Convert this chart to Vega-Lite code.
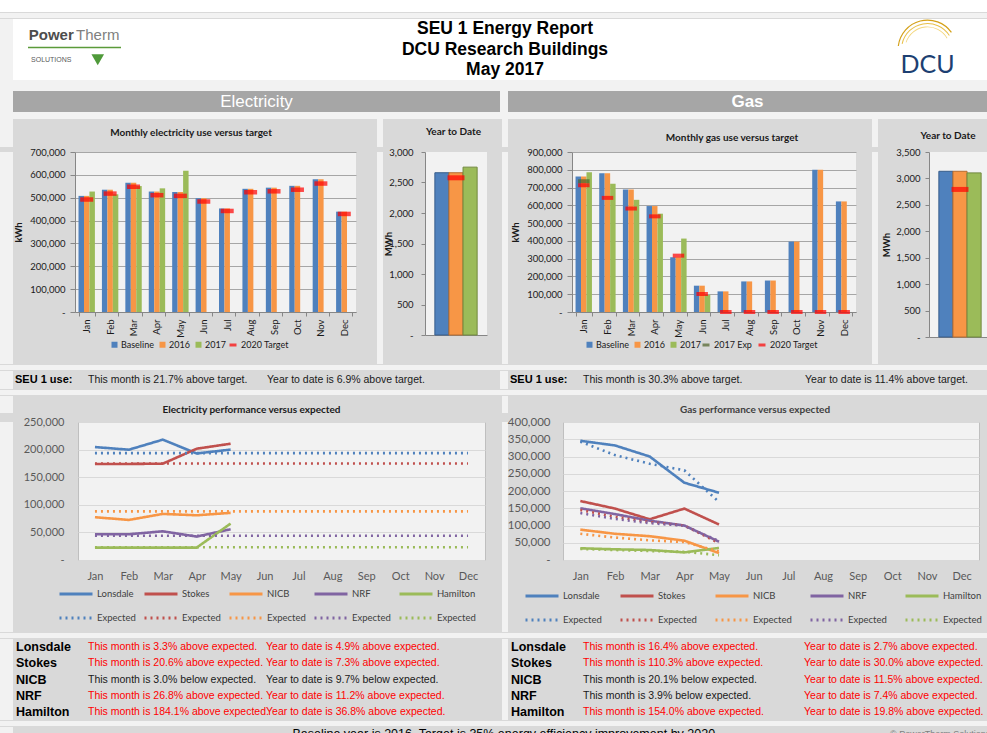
{
"$schema": "https://vega.github.io/schema/vega-lite/v6.json",
"padding": 0,
"background": "#d9d9d9",
"spacing": 0,
"resolve": {"scale": {"color": "independent", "stroke": "independent", "strokeDash": "independent"}, "legend": {"color": "independent", "stroke": "independent", "strokeDash": "independent"}},
"config": {
  "view": {"stroke": null},
  "font": "Lato",
  "axis": {"labelFont": "Lato", "titleFont": "Lato"},
  "legend": {"labelFont": "Lato", "padding": 0},
  "title": {"font": "Lato", "fontWeight": "bold", "fontSize": 10, "color": "#1a1a1a"}
},
"datasets": {
  "elecMonthly": [
    {"month":"Jan","series":"Baseline","kwh":508000},{"month":"Feb","series":"Baseline","kwh":535000},{"month":"Mar","series":"Baseline","kwh":565000},{"month":"Apr","series":"Baseline","kwh":527000},{"month":"May","series":"Baseline","kwh":525000},{"month":"Jun","series":"Baseline","kwh":498000},{"month":"Jul","series":"Baseline","kwh":453000},{"month":"Aug","series":"Baseline","kwh":539000},{"month":"Sep","series":"Baseline","kwh":544000},{"month":"Oct","series":"Baseline","kwh":552000},{"month":"Nov","series":"Baseline","kwh":581000},{"month":"Dec","series":"Baseline","kwh":439000},
    {"month":"Jan","series":"2016","kwh":508000},{"month":"Feb","series":"2016","kwh":535000},{"month":"Mar","series":"2016","kwh":565000},{"month":"Apr","series":"2016","kwh":527000},{"month":"May","series":"2016","kwh":525000},{"month":"Jun","series":"2016","kwh":498000},{"month":"Jul","series":"2016","kwh":453000},{"month":"Aug","series":"2016","kwh":539000},{"month":"Sep","series":"2016","kwh":544000},{"month":"Oct","series":"2016","kwh":552000},{"month":"Nov","series":"2016","kwh":581000},{"month":"Dec","series":"2016","kwh":439000},
    {"month":"Jan","series":"2017","kwh":527000},{"month":"Feb","series":"2017","kwh":515000},{"month":"Mar","series":"2017","kwh":551000},{"month":"Apr","series":"2017","kwh":541000},{"month":"May","series":"2017","kwh":618000},
    {"month":"Jan","series":"2020 Target","kwh":492000},{"month":"Feb","series":"2020 Target","kwh":518000},{"month":"Mar","series":"2020 Target","kwh":548000},{"month":"Apr","series":"2020 Target","kwh":511000},{"month":"May","series":"2020 Target","kwh":508000},{"month":"Jun","series":"2020 Target","kwh":483000},{"month":"Jul","series":"2020 Target","kwh":442000},{"month":"Aug","series":"2020 Target","kwh":524000},{"month":"Sep","series":"2020 Target","kwh":528000},{"month":"Oct","series":"2020 Target","kwh":535000},{"month":"Nov","series":"2020 Target","kwh":562000},{"month":"Dec","series":"2020 Target","kwh":429000}
  ],
  "gasMonthly": [
    {"month":"Jan","series":"Baseline","kwh":762000},{"month":"Feb","series":"Baseline","kwh":780000},{"month":"Mar","series":"Baseline","kwh":689000},{"month":"Apr","series":"Baseline","kwh":596000},{"month":"May","series":"Baseline","kwh":308000},{"month":"Jun","series":"Baseline","kwh":148000},{"month":"Jul","series":"Baseline","kwh":116000},{"month":"Aug","series":"Baseline","kwh":172000},{"month":"Sep","series":"Baseline","kwh":177000},{"month":"Oct","series":"Baseline","kwh":396000},{"month":"Nov","series":"Baseline","kwh":800000},{"month":"Dec","series":"Baseline","kwh":622000},
    {"month":"Jan","series":"2016","kwh":762000},{"month":"Feb","series":"2016","kwh":780000},{"month":"Mar","series":"2016","kwh":689000},{"month":"Apr","series":"2016","kwh":596000},{"month":"May","series":"2016","kwh":308000},{"month":"Jun","series":"2016","kwh":148000},{"month":"Jul","series":"2016","kwh":116000},{"month":"Aug","series":"2016","kwh":172000},{"month":"Sep","series":"2016","kwh":177000},{"month":"Oct","series":"2016","kwh":396000},{"month":"Nov","series":"2016","kwh":800000},{"month":"Dec","series":"2016","kwh":622000},
    {"month":"Jan","series":"2017","kwh":786000},{"month":"Feb","series":"2017","kwh":722000},{"month":"Mar","series":"2017","kwh":631000},{"month":"Apr","series":"2017","kwh":553000},{"month":"May","series":"2017","kwh":413000},{"month":"Jun","series":"2017","kwh":96000},
    {"month":"Jan","series":"2017 Exp","kwh":736000},
    {"month":"Jan","series":"2020 Target","kwh":713000},{"month":"Feb","series":"2020 Target","kwh":642000},{"month":"Mar","series":"2020 Target","kwh":582000},{"month":"Apr","series":"2020 Target","kwh":538000},{"month":"May","series":"2020 Target","kwh":317000},{"month":"Jun","series":"2020 Target","kwh":101000},{"month":"Jul","series":"2020 Target","kwh":0},{"month":"Aug","series":"2020 Target","kwh":0},{"month":"Sep","series":"2020 Target","kwh":0},{"month":"Oct","series":"2020 Target","kwh":0},{"month":"Nov","series":"2020 Target","kwh":0},{"month":"Dec","series":"2020 Target","kwh":0}
  ],
  "elecYtd": [{"bar":"Baseline","mwh":2660},{"bar":"2016","mwh":2660},{"bar":"2017","mwh":2752}],
  "elecYtdTarget": [{"bar":"2016","mwh":2577}],
  "gasYtd": [{"bar":"Baseline","mwh":3135},{"bar":"2016","mwh":3135},{"bar":"2017","mwh":3105}],
  "gasYtdTarget": [{"bar":"2016","mwh":2792}],
  "elecPerf": [
    {"month":"Jan","series":"Lonsdale","kwh":204600},{"month":"Feb","series":"Lonsdale","kwh":199800},{"month":"Mar","series":"Lonsdale","kwh":218000},{"month":"Apr","series":"Lonsdale","kwh":193000},{"month":"May","series":"Lonsdale","kwh":200000},
    {"month":"Jan","series":"Stokes","kwh":174000},{"month":"Feb","series":"Stokes","kwh":174000},{"month":"Mar","series":"Stokes","kwh":174500},{"month":"Apr","series":"Stokes","kwh":201600},{"month":"May","series":"Stokes","kwh":210700},
    {"month":"Jan","series":"NICB","kwh":77500},{"month":"Feb","series":"NICB","kwh":72600},{"month":"Mar","series":"NICB","kwh":83500},{"month":"Apr","series":"NICB","kwh":81000},{"month":"May","series":"NICB","kwh":85400},
    {"month":"Jan","series":"NRF","kwh":46600},{"month":"Feb","series":"NRF","kwh":46600},{"month":"Mar","series":"NRF","kwh":52000},{"month":"Apr","series":"NRF","kwh":42400},{"month":"May","series":"NRF","kwh":55700},
    {"month":"Jan","series":"Hamilton","kwh":22500},{"month":"Feb","series":"Hamilton","kwh":22500},{"month":"Mar","series":"Hamilton","kwh":22500},{"month":"Apr","series":"Hamilton","kwh":22500},{"month":"May","series":"Hamilton","kwh":66000},
    {"month":"Jan","series":"Lonsdale Exp","kwh":193600},{"month":"Feb","series":"Lonsdale Exp","kwh":193600},{"month":"Mar","series":"Lonsdale Exp","kwh":193600},{"month":"Apr","series":"Lonsdale Exp","kwh":193600},{"month":"May","series":"Lonsdale Exp","kwh":193600},{"month":"Jun","series":"Lonsdale Exp","kwh":193600},{"month":"Jul","series":"Lonsdale Exp","kwh":193600},{"month":"Aug","series":"Lonsdale Exp","kwh":193600},{"month":"Sep","series":"Lonsdale Exp","kwh":193600},{"month":"Oct","series":"Lonsdale Exp","kwh":193600},{"month":"Nov","series":"Lonsdale Exp","kwh":193600},{"month":"Dec","series":"Lonsdale Exp","kwh":193600},
    {"month":"Jan","series":"Stokes Exp","kwh":174700},{"month":"Feb","series":"Stokes Exp","kwh":174700},{"month":"Mar","series":"Stokes Exp","kwh":174700},{"month":"Apr","series":"Stokes Exp","kwh":174700},{"month":"May","series":"Stokes Exp","kwh":174700},{"month":"Jun","series":"Stokes Exp","kwh":174700},{"month":"Jul","series":"Stokes Exp","kwh":174700},{"month":"Aug","series":"Stokes Exp","kwh":174700},{"month":"Sep","series":"Stokes Exp","kwh":174700},{"month":"Oct","series":"Stokes Exp","kwh":174700},{"month":"Nov","series":"Stokes Exp","kwh":174700},{"month":"Dec","series":"Stokes Exp","kwh":174700},
    {"month":"Jan","series":"NICB Exp","kwh":88000},{"month":"Feb","series":"NICB Exp","kwh":88000},{"month":"Mar","series":"NICB Exp","kwh":88000},{"month":"Apr","series":"NICB Exp","kwh":88000},{"month":"May","series":"NICB Exp","kwh":88000},{"month":"Jun","series":"NICB Exp","kwh":88000},{"month":"Jul","series":"NICB Exp","kwh":88000},{"month":"Aug","series":"NICB Exp","kwh":88000},{"month":"Sep","series":"NICB Exp","kwh":88000},{"month":"Oct","series":"NICB Exp","kwh":88000},{"month":"Nov","series":"NICB Exp","kwh":88000},{"month":"Dec","series":"NICB Exp","kwh":88000},
    {"month":"Jan","series":"NRF Exp","kwh":43900},{"month":"Feb","series":"NRF Exp","kwh":43900},{"month":"Mar","series":"NRF Exp","kwh":43900},{"month":"Apr","series":"NRF Exp","kwh":43900},{"month":"May","series":"NRF Exp","kwh":43900},{"month":"Jun","series":"NRF Exp","kwh":43900},{"month":"Jul","series":"NRF Exp","kwh":43900},{"month":"Aug","series":"NRF Exp","kwh":43900},{"month":"Sep","series":"NRF Exp","kwh":43900},{"month":"Oct","series":"NRF Exp","kwh":43900},{"month":"Nov","series":"NRF Exp","kwh":43900},{"month":"Dec","series":"NRF Exp","kwh":43900},
    {"month":"Jan","series":"Hamilton Exp","kwh":23200},{"month":"Feb","series":"Hamilton Exp","kwh":23200},{"month":"Mar","series":"Hamilton Exp","kwh":23200},{"month":"Apr","series":"Hamilton Exp","kwh":23200},{"month":"May","series":"Hamilton Exp","kwh":23200},{"month":"Jun","series":"Hamilton Exp","kwh":23200},{"month":"Jul","series":"Hamilton Exp","kwh":23200},{"month":"Aug","series":"Hamilton Exp","kwh":23200},{"month":"Sep","series":"Hamilton Exp","kwh":23200},{"month":"Oct","series":"Hamilton Exp","kwh":23200},{"month":"Nov","series":"Hamilton Exp","kwh":23200},{"month":"Dec","series":"Hamilton Exp","kwh":23200}
  ],
  "gasPerf": [
    {"month":"Jan","series":"Lonsdale","kwh":345600},{"month":"Feb","series":"Lonsdale","kwh":332000},{"month":"Mar","series":"Lonsdale","kwh":300000},{"month":"Apr","series":"Lonsdale","kwh":224000},{"month":"May","series":"Lonsdale","kwh":195000},
    {"month":"Jan","series":"Stokes","kwh":171000},{"month":"Feb","series":"Stokes","kwh":149000},{"month":"Mar","series":"Stokes","kwh":118000},{"month":"Apr","series":"Stokes","kwh":149000},{"month":"May","series":"Stokes","kwh":103000},
    {"month":"Jan","series":"NICB","kwh":88000},{"month":"Feb","series":"NICB","kwh":76000},{"month":"Mar","series":"NICB","kwh":69000},{"month":"Apr","series":"NICB","kwh":56000},{"month":"May","series":"NICB","kwh":20000},
    {"month":"Jan","series":"NRF","kwh":150000},{"month":"Feb","series":"NRF","kwh":133000},{"month":"Mar","series":"NRF","kwh":114000},{"month":"Apr","series":"NRF","kwh":100000},{"month":"May","series":"NRF","kwh":53000},
    {"month":"Jan","series":"Hamilton","kwh":34000},{"month":"Feb","series":"Hamilton","kwh":31000},{"month":"Mar","series":"Hamilton","kwh":29000},{"month":"Apr","series":"Hamilton","kwh":22000},{"month":"May","series":"Hamilton","kwh":35000},
    {"month":"Jan","series":"Lonsdale Exp","kwh":343000},{"month":"Feb","series":"Lonsdale Exp","kwh":304000},{"month":"Mar","series":"Lonsdale Exp","kwh":279000},{"month":"Apr","series":"Lonsdale Exp","kwh":260000},{"month":"May","series":"Lonsdale Exp","kwh":168000},
    {"month":"Jan","series":"Stokes Exp","kwh":145000},{"month":"Feb","series":"Stokes Exp","kwh":125000},{"month":"Mar","series":"Stokes Exp","kwh":110000},{"month":"Apr","series":"Stokes Exp","kwh":100000},{"month":"May","series":"Stokes Exp","kwh":49000},
    {"month":"Jan","series":"NICB Exp","kwh":76000},{"month":"Feb","series":"NICB Exp","kwh":65000},{"month":"Mar","series":"NICB Exp","kwh":57000},{"month":"Apr","series":"NICB Exp","kwh":52000},{"month":"May","series":"NICB Exp","kwh":25000},
    {"month":"Jan","series":"NRF Exp","kwh":136000},{"month":"Feb","series":"NRF Exp","kwh":119000},{"month":"Mar","series":"NRF Exp","kwh":107000},{"month":"Apr","series":"NRF Exp","kwh":99000},{"month":"May","series":"NRF Exp","kwh":55000},
    {"month":"Jan","series":"Hamilton Exp","kwh":32000},{"month":"Feb","series":"Hamilton Exp","kwh":29000},{"month":"Mar","series":"Hamilton Exp","kwh":26000},{"month":"Apr","series":"Hamilton Exp","kwh":24000},{"month":"May","series":"Hamilton Exp","kwh":14000}
  ],
  "elecTable": [
    {"building":"Lonsdale","month_text":"This month is 3.3% above expected.","ytd_text":"Year to date is 4.9% above expected."},
    {"building":"Stokes","month_text":"This month is 20.6% above expected.","ytd_text":"Year to date is 7.3% above expected."},
    {"building":"NICB","month_text":"This month is 3.0% below expected.","ytd_text":"Year to date is 9.7% below expected."},
    {"building":"NRF","month_text":"This month is 26.8% above expected.","ytd_text":"Year to date is 11.2% above expected."},
    {"building":"Hamilton","month_text":"This month is 184.1% above expected.","ytd_text":"Year to date is 36.8% above expected."}
  ],
  "gasTable": [
    {"building":"Lonsdale","month_text":"This month is 16.4% above expected.","ytd_text":"Year to date is 2.7% above expected."},
    {"building":"Stokes","month_text":"This month is 110.3% above expected.","ytd_text":"Year to date is 30.0% above expected."},
    {"building":"NICB","month_text":"This month is 20.1% below expected.","ytd_text":"Year to date is 11.5% above expected."},
    {"building":"NRF","month_text":"This month is 3.9% below expected.","ytd_text":"Year to date is 7.4% above expected."},
    {"building":"Hamilton","month_text":"This month is 154.0% above expected.","ytd_text":"Year to date is 19.8% above expected."}
  ]
},
"vconcat": [
  {"width":987,"height":12,"data":{"values":[{}]},"mark":{"type":"point","opacity":0},"view":{"fill":"#ffffff"}},
  {"width":987,"height":5,"data":{"values":[{}]},"mark":{"type":"point","opacity":0},"view":{"fill":"#f2f2f2"}},
  {"hconcat":[
    {"width":13,"height":61,"data":{"values":[{}]},"mark":{"type":"point","opacity":0},"view":{"fill":"#f2f2f2"}},
    {"width":15,"height":61,"data":{"values":[{}]},"mark":{"type":"point","opacity":0},"view":{"fill":"#ffffff"}},
    {"width":93,"height":61,"view":{"fill":"#ffffff"},"data":{"values":[{}]},
     "layer":[
      {"mark":{"type":"text","text":"Power","font":"Liberation Sans","fontSize":15,"fontWeight":"bold","color":"#4d4d4d"},
       "encoding":{"x":{"datum":"Power","type":"nominal","scale":{"type":"band","domain":["Power","Therm"],"paddingInner":0,"paddingOuter":0},"axis":null},
                   "y":{"datum":"brand","type":"nominal","scale":{"type":"band","domain":["brand","line","sol"],"paddingInner":0,"paddingOuter":2.1,"align":0.42},"axis":null}}},
      {"mark":{"type":"text","text":"Therm","font":"Liberation Sans","fontSize":15,"color":"#808080"},
       "encoding":{"x":{"datum":"Therm","type":"nominal"},"y":{"datum":"brand","type":"nominal"}}},
      {"mark":{"type":"rule","color":"#5b9b3a","strokeWidth":1.5},"encoding":{"y":{"datum":"line","type":"nominal"}}},
      {"mark":{"type":"text","text":"SOLUTIONS","font":"Liberation Sans","fontSize":7,"color":"#595959"},
       "encoding":{"x":{"datum":"Power","type":"nominal"},"y":{"datum":"sol","type":"nominal"}}},
      {"mark":{"type":"point","shape":"triangle-down","size":160,"filled":true,"color":"#4f9a3a","opacity":1},
       "encoding":{"x":{"datum":"Therm","type":"nominal"},"y":{"datum":"sol","type":"nominal"}}}
     ]},
    {"width":259,"height":61,"data":{"values":[{}]},"mark":{"type":"point","opacity":0},"view":{"fill":"#ffffff"}},
    {"width":250,"height":61,"view":{"fill":"#ffffff"},
     "data":{"values":[{"line":1,"text":"SEU 1 Energy Report"},{"line":2,"text":"DCU Research Buildings"},{"line":3,"text":"May 2017"}]},
     "mark":{"type":"text","font":"Liberation Sans","fontSize":17.5,"fontWeight":"bold","color":"#000000"},
     "encoding":{"y":{"field":"line","type":"ordinal","axis":null,"scale":{"type":"band","paddingInner":0,"paddingOuter":0}},"text":{"field":"text"}}},
    {"width":260,"height":61,"data":{"values":[{}]},"mark":{"type":"point","opacity":0},"view":{"fill":"#ffffff"}},
    {"width":75,"height":61,"view":{"fill":"#ffffff"},"data":{"values":[{"t":"DCU"}]},
     "layer":[
      {"mark":{"type":"arc","theta":-1.45,"theta2":0.95,"radius":30,"radius2":28.8,"color":"#d4a017"}},
      {"mark":{"type":"arc","theta":-1.35,"theta2":1.0,"radius":26.5,"radius2":25.5,"color":"#e8c04a"}},
      {"mark":{"type":"arc","theta":-1.25,"theta2":1.05,"radius":23,"radius2":22.2,"color":"#f3d77e"}},
      {"mark":{"type":"text","font":"Lato","fontSize":25,"color":"#1d3f72"},
       "encoding":{"y":{"datum":"DCU","type":"nominal","scale":{"type":"band","domain":["swoosh","DCU"],"paddingInner":0,"paddingOuter":0},"axis":null},"text":{"field":"t"}}}
     ]},
    {"width":22,"height":61,"data":{"values":[{}]},"mark":{"type":"point","opacity":0},"view":{"fill":"#ffffff"}}
  ],"spacing":0,"bounds":"flush"},
  {"width":987,"height":11,"data":{"values":[{}]},"mark":{"type":"point","opacity":0},"view":{"fill":"#f2f2f2"}},
  {"hconcat":[
    {"width":13,"height":21,"data":{"values":[{}]},"mark":{"type":"point","opacity":0},"view":{"fill":"#f2f2f2"}},
    {"width":487,"height":21,"view":{"fill":"#a6a6a6"},"data":{"values":[{"label":"Electricity"}]},
     "mark":{"type":"text","font":"Liberation Sans","fontSize":17,"color":"#ffffff"},"encoding":{"text":{"field":"label"}}},
    {"width":8,"height":21,"data":{"values":[{}]},"mark":{"type":"point","opacity":0},"view":{"fill":"#f2f2f2"}},
    {"width":479,"height":21,"view":{"fill":"#a6a6a6"},"data":{"values":[{"label":"Gas"}]},
     "mark":{"type":"text","font":"Liberation Sans","fontSize":17,"fontWeight":"bold","color":"#ffffff"},"encoding":{"text":{"field":"label"}}}
  ],"spacing":0,"bounds":"flush"},
  {"width":987,"height":7,"data":{"values":[{}]},"mark":{"type":"point","opacity":0},"view":{"fill":"#f2f2f2"}},
  {"hconcat":[
    {"width":13,"height":28,"data":{"values":[{}]},"mark":{"type":"point","opacity":0},"view":{"fill":"#f2f2f2"}},
    {"width":356,"height":28,"data":{"values":[{"t":"Monthly electricity use versus target"}]},"mark":{"type":"text","font":"Lato","fontSize":10,"fontWeight":"bold","color":"#1a1a1a"},"encoding":{"text":{"field":"t"}}},
    {"width":8,"height":28,"data":{"values":[{}]},"mark":{"type":"point","opacity":0}},
    {"width":6,"height":28,"data":{"values":[{}]},"mark":{"type":"point","opacity":0},"view":{"fill":"#f2f2f2"}},
    {"width":22,"height":28,"data":{"values":[{}]},"mark":{"type":"point","opacity":0}},
    {"width":97,"height":26,"data":{"values":[{"t":"Year to Date"}]},"mark":{"type":"text","font":"Lato","fontSize":10,"fontWeight":"bold","color":"#1a1a1a"},"encoding":{"text":{"field":"t"}}},
    {"width":6,"height":28,"data":{"values":[{}]},"mark":{"type":"point","opacity":0},"view":{"fill":"#f2f2f2"}},
    {"width":84,"height":28,"data":{"values":[{}]},"mark":{"type":"point","opacity":0}},
    {"width":280,"height":28,"data":{"values":[{"t":"Monthly gas use versus target"}]},"mark":{"type":"text","baseline":"top","font":"Lato","fontSize":10,"fontWeight":"bold","color":"#1a1a1a"},"encoding":{"text":{"field":"t"}}},
    {"width":6,"height":28,"data":{"values":[{}]},"mark":{"type":"point","opacity":0},"view":{"fill":"#f2f2f2"}},
    {"width":31,"height":28,"data":{"values":[{}]},"mark":{"type":"point","opacity":0}},
    {"width":78,"height":24,"data":{"values":[{"t":"Year to Date"}]},"mark":{"type":"text","baseline":"top","font":"Lato","fontSize":10,"fontWeight":"bold","color":"#1a1a1a"},"encoding":{"text":{"field":"t"}}}
  ],"spacing":0,"bounds":"flush"},
  {"hconcat":[
    {"width":13,"height":212,"data":{"values":[{}]},"mark":{"type":"point","opacity":0},"view":{"fill":"#f2f2f2"}},
    {"width":62,"height":212,"data":{"values":[{}]},"mark":{"type":"point","opacity":0}},
    {"width":281,"height":160,"view":{"fill":"#f2f2f2"},
     "data":{"name":"elecMonthly"},
     "encoding":{
      "x":{"field":"month","type":"nominal","sort":["Jan","Feb","Mar","Apr","May","Jun","Jul","Aug","Sep","Oct","Nov","Dec"],"scale":{"paddingInner":0.3,"paddingOuter":0.15},
           "axis":{"title":null,"labelAngle":-90,"labelFontSize":9.5,"labelColor":"#1a1a1a","domainColor":"#868686","tickColor":"#868686","tickBand":"extent","tickSize":4,"labelPadding":3}},
      "y":{"field":"kwh","type":"quantitative","scale":{"domain":[0,700000]},
           "axis":{"title":"kWh","titleFontSize":9.5,"titleColor":"#1a1a1a","titlePadding":6,"values":[0,100000,200000,300000,400000,500000,600000,700000],"labelOverlap":false,"labelExpr":"datum.value == 0 ? '-' : format(datum.value, ',')","labelFontSize":9.5,"labelColor":"#1a1a1a","grid":true,"gridColor":"#a6a6a6","domainColor":"#868686","tickColor":"#868686","tickSize":5,"labelPadding":5}}
     },
     "layer":[
      {"transform":[{"filter":"datum.series != '2020 Target'"}],"mark":{"type":"bar"},
       "encoding":{"xOffset":{"field":"series","type":"nominal","scale":{"domain":["Baseline","2016","2017"]}},
        "color":{"field":"series","type":"nominal","scale":{"domain":["Baseline","2016","2017"],"range":["#4f81bd","#f79646","#9bbb59"]},
         "legend":{"title":null,"orient":"none","legendX":35,"legendY":188,"direction":"horizontal","labelFontSize":9,"labelColor":"#1a1a1a","symbolSize":36,"symbolType":"square","columnPadding":4,"labelOffset":2}}}},
      {"transform":[{"filter":"datum.series == '2020 Target'"}],"mark":{"type":"tick","filled":false,"thickness":0.5,"strokeWidth":4,"size":9},
       "encoding":{"stroke":{"field":"series","type":"nominal","scale":{"domain":["2020 Target"],"range":["#ff0000"]},
         "legend":{"title":null,"orient":"none","legendX":153,"legendY":188,"direction":"horizontal","labelFontSize":9,"labelColor":"#1a1a1a","symbolType":"stroke","symbolSize":49,"symbolStrokeWidth":3,"labelOffset":3}}}}
     ]},
    {"width":21,"height":212,"data":{"values":[{}]},"mark":{"type":"point","opacity":0}},
    {"width":6,"height":212,"data":{"values":[{}]},"mark":{"type":"point","opacity":0},"view":{"fill":"#f2f2f2"}},
    {"width":42,"height":212,"data":{"values":[{}]},"mark":{"type":"point","opacity":0}},
    {"width":62,"height":183,"view":{"fill":"#f2f2f2"},
     "encoding":{
      "x":{"field":"bar","type":"nominal","sort":["Baseline","2016","2017"],"scale":{"domain":["Baseline","2016","2017"],"paddingInner":0,"paddingOuter":0.7},"axis":{"title":null,"labels":false,"ticks":false,"domainColor":"#868686"}},
      "y":{"field":"mwh","type":"quantitative","scale":{"domain":[0,3000]},"axis":{"title":"MWh","titleX":-32,"titleFontSize":9.5,"titleColor":"#1a1a1a","values":[0,500,1000,1500,2000,2500,3000],"labelOverlap":false,"labelExpr":"datum.value == 0 ? '-' : format(datum.value, ',')","labelFontSize":9.5,"labelColor":"#1a1a1a","grid":false,"domainColor":"#868686","tickColor":"#868686","tickSize":4,"labelPadding":8}}
     },
     "layer":[
      {"data":{"name":"elecYtd"},"mark":{"type":"bar","strokeWidth":1},
       "encoding":{
        "color":{"field":"bar","type":"nominal","scale":{"domain":["Baseline","2016","2017"],"range":["#4f81bd","#f79646","#9bbb59"]},"legend":null},
        "stroke":{"field":"bar","type":"nominal","scale":{"domain":["Baseline","2016","2017"],"range":["#385d8a","#b66d31","#71893f"]},"legend":null}
       }},
      {"data":{"name":"elecYtdTarget"},"mark":{"type":"tick","color":"#ff0000","thickness":5,"size":17}}
     ]},
    {"width":15,"height":212,"data":{"values":[{}]},"mark":{"type":"point","opacity":0}},
    {"width":6,"height":212,"data":{"values":[{}]},"mark":{"type":"point","opacity":0},"view":{"fill":"#f2f2f2"}},
    {"width":64,"height":212,"data":{"values":[{}]},"mark":{"type":"point","opacity":0}},
    {"width":284,"height":160,"view":{"fill":"#f2f2f2"},
     "data":{"name":"gasMonthly"},
     "encoding":{
      "x":{"field":"month","type":"nominal","sort":["Jan","Feb","Mar","Apr","May","Jun","Jul","Aug","Sep","Oct","Nov","Dec"],"scale":{"paddingInner":0.3,"paddingOuter":0.15},
           "axis":{"title":null,"labelAngle":-90,"labelFontSize":9.5,"labelColor":"#1a1a1a","domainColor":"#868686","tickColor":"#868686","tickBand":"extent","tickSize":4,"labelPadding":3}},
      "y":{"field":"kwh","type":"quantitative","scale":{"domain":[0,900000]},
           "axis":{"title":"kWh","titleFontSize":9.5,"titleColor":"#1a1a1a","titlePadding":6,"values":[0,100000,200000,300000,400000,500000,600000,700000,800000,900000],"labelOverlap":false,"labelExpr":"datum.value == 0 ? '-' : format(datum.value, ',')","labelFontSize":9.5,"labelColor":"#1a1a1a","grid":true,"gridColor":"#a6a6a6","domainColor":"#868686","tickColor":"#868686","tickSize":5,"labelPadding":5}}
     },
     "layer":[
      {"transform":[{"filter":"datum.series == 'Baseline' || datum.series == '2016' || datum.series == '2017'"}],"mark":{"type":"bar"},
       "encoding":{"xOffset":{"field":"series","type":"nominal","scale":{"domain":["Baseline","2016","2017"]}},
        "color":{"field":"series","type":"nominal","scale":{"domain":["Baseline","2016","2017"],"range":["#4f81bd","#f79646","#9bbb59"]},
         "legend":{"title":null,"orient":"none","legendX":13,"legendY":188,"direction":"horizontal","labelFontSize":9,"labelColor":"#1a1a1a","symbolSize":36,"symbolType":"square","columnPadding":4,"labelOffset":2}}}},
      {"transform":[{"filter":"datum.series == '2017 Exp' || datum.series == '2020 Target'"}],"mark":{"type":"tick","filled":false,"thickness":0.5,"strokeWidth":3.5,"size":8},
       "encoding":{"stroke":{"field":"series","type":"nominal","scale":{"domain":["2017 Exp","2020 Target"],"range":["#4f6228","#ff0000"]},
         "legend":{"title":null,"orient":"none","legendX":129,"legendY":188,"direction":"horizontal","labelFontSize":9,"labelColor":"#1a1a1a","symbolType":"stroke","symbolSize":49,"symbolStrokeWidth":3,"labelOffset":3,"columnPadding":0}}}}
     ]},
    {"width":16,"height":212,"data":{"values":[{}]},"mark":{"type":"point","opacity":0}},
    {"width":6,"height":212,"data":{"values":[{}]},"mark":{"type":"point","opacity":0},"view":{"fill":"#f2f2f2"}},
    {"width":51,"height":212,"data":{"values":[{}]},"mark":{"type":"point","opacity":0}},
    {"width":62,"height":185,"view":{"fill":"#f2f2f2"},
     "encoding":{
      "x":{"field":"bar","type":"nominal","sort":["Baseline","2016","2017"],"scale":{"domain":["Baseline","2016","2017"],"paddingInner":0,"paddingOuter":0.7},"axis":{"title":null,"labels":false,"ticks":false,"domainColor":"#868686"}},
      "y":{"field":"mwh","type":"quantitative","scale":{"domain":[0,3500]},"axis":{"title":"MWh","titleX":-38,"titleFontSize":9.5,"titleColor":"#1a1a1a","values":[0,500,1000,1500,2000,2500,3000,3500],"labelOverlap":false,"labelExpr":"datum.value == 0 ? '-' : format(datum.value, ',')","labelFontSize":9.5,"labelColor":"#1a1a1a","grid":false,"domainColor":"#868686","tickColor":"#868686","tickSize":4,"labelPadding":5}}
     },
     "layer":[
      {"data":{"name":"gasYtd"},"mark":{"type":"bar","strokeWidth":1},
       "encoding":{
        "color":{"field":"bar","type":"nominal","scale":{"domain":["Baseline","2016","2017"],"range":["#4f81bd","#f79646","#9bbb59"]},"legend":null},
        "stroke":{"field":"bar","type":"nominal","scale":{"domain":["Baseline","2016","2017"],"range":["#385d8a","#b66d31","#71893f"]},"legend":null}
       }},
      {"data":{"name":"gasYtdTarget"},"mark":{"type":"tick","color":"#ff0000","thickness":5,"size":17}}
     ]}
  ],"spacing":0,"bounds":"flush","resolve":{"scale":{"color":"independent","stroke":"independent","strokeDash":"independent"},"legend":{"color":"independent","stroke":"independent","strokeDash":"independent"}}},
  {"width":987,"height":5,"data":{"values":[{}]},"mark":{"type":"point","opacity":0},"view":{"fill":"#f2f2f2"}},
  {"hconcat":[
    {"width":13,"height":18,"data":{"values":[{}]},"mark":{"type":"point","opacity":0},"view":{"fill":"#f2f2f2"}},
    {"width":2,"height":18,"data":{"values":[{}]},"mark":{"type":"point","opacity":0}},
    {"width":73,"height":18,"data":{"values":[{"t":"SEU 1 use:"}]},"mark":{"type":"text","align":"left","font":"Liberation Sans","fontSize":11,"fontWeight":"bold","color":"#000000"},"encoding":{"x":{"datum":0,"type":"quantitative","scale":{"domain":[0,1]},"axis":null},"text":{"field":"t"}}},
    {"width":179,"height":18,"data":{"values":[{"t":"This month is 21.7% above target."}]},"mark":{"type":"text","align":"left","font":"Liberation Sans","fontSize":10.5,"color":"#1a1a1a"},"encoding":{"x":{"datum":0,"type":"quantitative","scale":{"domain":[0,1]},"axis":null},"text":{"field":"t"}}},
    {"width":233,"height":18,"data":{"values":[{"t":"Year to date is 6.9% above target."}]},"mark":{"type":"text","align":"left","font":"Liberation Sans","fontSize":10.5,"color":"#1a1a1a"},"encoding":{"x":{"datum":0,"type":"quantitative","scale":{"domain":[0,1]},"axis":null},"text":{"field":"t"}}},
    {"width":8,"height":18,"data":{"values":[{}]},"mark":{"type":"point","opacity":0},"view":{"fill":"#f2f2f2"}},
    {"width":2,"height":18,"data":{"values":[{}]},"mark":{"type":"point","opacity":0}},
    {"width":73,"height":18,"data":{"values":[{"t":"SEU 1 use:"}]},"mark":{"type":"text","align":"left","font":"Liberation Sans","fontSize":11,"fontWeight":"bold","color":"#000000"},"encoding":{"x":{"datum":0,"type":"quantitative","scale":{"domain":[0,1]},"axis":null},"text":{"field":"t"}}},
    {"width":222,"height":18,"data":{"values":[{"t":"This month is 30.3% above target."}]},"mark":{"type":"text","align":"left","font":"Liberation Sans","fontSize":10.5,"color":"#1a1a1a"},"encoding":{"x":{"datum":0,"type":"quantitative","scale":{"domain":[0,1]},"axis":null},"text":{"field":"t"}}},
    {"width":182,"height":18,"data":{"values":[{"t":"Year to date is 11.4% above target."}]},"mark":{"type":"text","align":"left","font":"Liberation Sans","fontSize":10.5,"color":"#1a1a1a"},"encoding":{"x":{"datum":0,"type":"quantitative","scale":{"domain":[0,1]},"axis":null},"text":{"field":"t"}}}
  ],"spacing":0,"bounds":"flush"},
  {"width":987,"height":5,"data":{"values":[{}]},"mark":{"type":"point","opacity":0},"view":{"fill":"#f2f2f2"}},
  {"hconcat":[
    {"width":13,"height":17,"data":{"values":[{}]},"mark":{"type":"point","opacity":0},"view":{"fill":"#f2f2f2"}},
    {"width":477,"height":17,"data":{"values":[{"t":"Electricity performance versus expected"}]},"mark":{"type":"text","baseline":"top","font":"Lato","fontSize":10,"fontWeight":"bold","color":"#1a1a1a"},"encoding":{"text":{"field":"t"}}},
    {"width":12,"height":17,"data":{"values":[{}]},"mark":{"type":"point","opacity":0}},
    {"width":6,"height":17,"data":{"values":[{}]},"mark":{"type":"point","opacity":0},"view":{"fill":"#f2f2f2"}},
    {"width":15,"height":17,"data":{"values":[{}]},"mark":{"type":"point","opacity":0}},
    {"width":464,"height":17,"data":{"values":[{"t":"Gas performance versus expected"}]},"mark":{"type":"text","baseline":"top","font":"Lato","fontSize":10,"fontWeight":"bold","color":"#404040"},"encoding":{"text":{"field":"t"}}}
  ],"spacing":0,"bounds":"flush"},
  {"hconcat":[
    {"width":13,"height":210,"data":{"values":[{}]},"mark":{"type":"point","opacity":0},"view":{"fill":"#f2f2f2"}},
    {"width":65,"height":210,"data":{"values":[{}]},"mark":{"type":"point","opacity":0}},
    {"width":407,"height":138,"view":{"fill":"#f2f2f2","stroke":"#bfbfbf"},
     "data":{"name":"elecPerf"},
     "mark":{"type":"line","strokeWidth":2.6},
     "encoding":{
      "x":{"field":"month","type":"ordinal","scale":{"type":"point","domain":["Jan","Feb","Mar","Apr","May","Jun","Jul","Aug","Sep","Oct","Nov","Dec"],"padding":0.5},
           "axis":{"title":null,"domain":false,"ticks":false,"labelAngle":0,"labelPadding":10,"labelFontSize":11,"labelColor":"#595959"}},
      "y":{"field":"kwh","type":"quantitative","scale":{"domain":[0,250000]},
           "axis":{"title":null,"values":[0,50000,100000,150000,200000,250000],"labelExpr":"datum.value == 0 ? '-' : format(datum.value, ',')","domain":false,"ticks":false,"labelPadding":14,"grid":true,"gridColor":"#d9d9d9","labelFontSize":11,"labelColor":"#595959"}},
      "color":{"field":"series","type":"nominal","scale":{"domain":["Lonsdale","Stokes","NICB","NRF","Hamilton","Lonsdale Exp","Stokes Exp","NICB Exp","NRF Exp","Hamilton Exp"],"range":["#4f81bd","#c0504d","#f79646","#8064a2","#9bbb59","#4f81bd","#c0504d","#f79646","#8064a2","#9bbb59"]},
           "legend":{"title":null,"orient":"none","legendX":-20,"legendY":154,"direction":"horizontal","columns":5,"symbolType":"stroke","symbolSize":1089,"symbolStrokeWidth":3,"labelFontSize":9.5,"labelColor":"#404040","labelExpr":"indexof(datum.label, 'Exp') >= 0 ? 'Expected' : datum.label","columnPadding":2,"rowPadding":-23,"labelOffset":3,"gridAlign":"all"}},
      "strokeDash":{"field":"series","type":"nominal","scale":{"domain":["Lonsdale","Stokes","NICB","NRF","Hamilton","Lonsdale Exp","Stokes Exp","NICB Exp","NRF Exp","Hamilton Exp"],"range":[[1,0],[1,0],[1,0],[1,0],[1,0],[2,4],[2,4],[2,4],[2,4],[2,4]]},
           "legend":{"title":null,"orient":"none","legendX":-20,"legendY":154,"direction":"horizontal","columns":5,"symbolType":"stroke","symbolSize":1089,"symbolStrokeWidth":3,"labelFontSize":9.5,"labelColor":"#404040","labelExpr":"indexof(datum.label, 'Exp') >= 0 ? 'Expected' : datum.label","columnPadding":2,"rowPadding":-23,"labelOffset":3,"gridAlign":"all"}}
     }},
    {"width":17,"height":210,"data":{"values":[{}]},"mark":{"type":"point","opacity":0}},
    {"width":6,"height":210,"data":{"values":[{}]},"mark":{"type":"point","opacity":0},"view":{"fill":"#f2f2f2"}},
    {"width":55,"height":210,"data":{"values":[{}]},"mark":{"type":"point","opacity":0}},
    {"width":416,"height":138,"view":{"fill":"#f2f2f2","stroke":"#bfbfbf"},
     "data":{"name":"gasPerf"},
     "mark":{"type":"line","strokeWidth":2.6},
     "encoding":{
      "x":{"field":"month","type":"ordinal","scale":{"type":"point","domain":["Jan","Feb","Mar","Apr","May","Jun","Jul","Aug","Sep","Oct","Nov","Dec"],"padding":0.5},
           "axis":{"title":null,"domain":false,"ticks":false,"labelAngle":0,"labelPadding":10,"labelFontSize":11,"labelColor":"#595959"}},
      "y":{"field":"kwh","type":"quantitative","scale":{"domain":[0,400000]},
           "axis":{"title":null,"values":[0,50000,100000,150000,200000,250000,300000,350000,400000],"labelExpr":"datum.value == 0 ? '-' : format(datum.value, ',')","domain":false,"ticks":false,"labelPadding":13,"grid":true,"gridColor":"#d9d9d9","labelFontSize":11.5,"labelColor":"#595959"}},
      "color":{"field":"series","type":"nominal","scale":{"domain":["Lonsdale","Stokes","NICB","NRF","Hamilton","Lonsdale Exp","Stokes Exp","NICB Exp","NRF Exp","Hamilton Exp"],"range":["#4f81bd","#c0504d","#f79646","#8064a2","#9bbb59","#4f81bd","#c0504d","#f79646","#8064a2","#9bbb59"]},
           "legend":{"title":null,"orient":"none","legendX":-39,"legendY":156,"direction":"horizontal","columns":5,"symbolType":"stroke","symbolSize":1089,"symbolStrokeWidth":3,"labelFontSize":9.5,"labelColor":"#404040","labelExpr":"indexof(datum.label, 'Exp') >= 0 ? 'Expected' : datum.label","columnPadding":12,"rowPadding":-23,"labelOffset":3,"gridAlign":"all"}},
      "strokeDash":{"field":"series","type":"nominal","scale":{"domain":["Lonsdale","Stokes","NICB","NRF","Hamilton","Lonsdale Exp","Stokes Exp","NICB Exp","NRF Exp","Hamilton Exp"],"range":[[1,0],[1,0],[1,0],[1,0],[1,0],[2,4],[2,4],[2,4],[2,4],[2,4]]},
           "legend":{"title":null,"orient":"none","legendX":-39,"legendY":156,"direction":"horizontal","columns":5,"symbolType":"stroke","symbolSize":1089,"symbolStrokeWidth":3,"labelFontSize":9.5,"labelColor":"#404040","labelExpr":"indexof(datum.label, 'Exp') >= 0 ? 'Expected' : datum.label","columnPadding":12,"rowPadding":-23,"labelOffset":3,"gridAlign":"all"}}
     }},
    {"width":8,"height":210,"data":{"values":[{}]},"mark":{"type":"point","opacity":0}}
  ],"spacing":0,"bounds":"flush","resolve":{"scale":{"color":"independent","stroke":"independent","strokeDash":"independent"},"legend":{"color":"independent","stroke":"independent","strokeDash":"independent"}}},
  {"width":987,"height":5,"data":{"values":[{}]},"mark":{"type":"point","opacity":0},"view":{"fill":"#f2f2f2"}},
  {"hconcat":[
    {"width":13,"height":81,"data":{"values":[{}]},"mark":{"type":"point","opacity":0},"view":{"fill":"#f2f2f2"}},
    {"width":3,"height":81,"data":{"values":[{}]},"mark":{"type":"point","opacity":0}},
    {"width":72,"height":81,"data":{"name":"elecTable"},"mark":{"type":"text","align":"left","font":"Liberation Sans","fontSize":12.5,"fontWeight":"bold","color":"#000000"},
     "encoding":{"x":{"datum":0,"type":"quantitative","scale":{"domain":[0,1]},"axis":null},"y":{"field":"building","type":"nominal","sort":null,"axis":null,"scale":{"type":"band","paddingInner":0,"paddingOuter":0}},"text":{"field":"building"}}},
    {"width":178,"height":81,"data":{"name":"elecTable"},"mark":{"type":"text","align":"left","font":"Liberation Sans","fontSize":10.5},
     "encoding":{"x":{"datum":0,"type":"quantitative","scale":{"domain":[0,1]},"axis":null},"y":{"field":"building","type":"nominal","sort":null,"axis":null,"scale":{"type":"band","paddingInner":0,"paddingOuter":0}},"text":{"field":"month_text"},
      "color":{"condition":{"test":"indexof(datum.month_text, 'above') >= 0","value":"#ff0000"},"value":"#1a1a1a"}}},
    {"width":236,"height":81,"data":{"name":"elecTable"},"mark":{"type":"text","align":"left","font":"Liberation Sans","fontSize":10.5},
     "encoding":{"x":{"datum":0,"type":"quantitative","scale":{"domain":[0,1]},"axis":null},"y":{"field":"building","type":"nominal","sort":null,"axis":null,"scale":{"type":"band","paddingInner":0,"paddingOuter":0}},"text":{"field":"ytd_text"},
      "color":{"condition":{"test":"indexof(datum.ytd_text, 'above') >= 0","value":"#ff0000"},"value":"#1a1a1a"}}},
    {"width":6,"height":81,"data":{"values":[{}]},"mark":{"type":"point","opacity":0},"view":{"fill":"#f2f2f2"}},
    {"width":3,"height":81,"data":{"values":[{}]},"mark":{"type":"point","opacity":0}},
    {"width":72,"height":81,"data":{"name":"gasTable"},"mark":{"type":"text","align":"left","font":"Liberation Sans","fontSize":12.5,"fontWeight":"bold","color":"#000000"},
     "encoding":{"x":{"datum":0,"type":"quantitative","scale":{"domain":[0,1]},"axis":null},"y":{"field":"building","type":"nominal","sort":null,"axis":null,"scale":{"type":"band","paddingInner":0,"paddingOuter":0}},"text":{"field":"building"}}},
    {"width":221,"height":81,"data":{"name":"gasTable"},"mark":{"type":"text","align":"left","font":"Liberation Sans","fontSize":10.5},
     "encoding":{"x":{"datum":0,"type":"quantitative","scale":{"domain":[0,1]},"axis":null},"y":{"field":"building","type":"nominal","sort":null,"axis":null,"scale":{"type":"band","paddingInner":0,"paddingOuter":0}},"text":{"field":"month_text"},
      "color":{"condition":{"test":"indexof(datum.month_text, 'above') >= 0","value":"#ff0000"},"value":"#1a1a1a"}}},
    {"width":183,"height":81,"data":{"name":"gasTable"},"mark":{"type":"text","align":"left","font":"Liberation Sans","fontSize":10.5},
     "encoding":{"x":{"datum":0,"type":"quantitative","scale":{"domain":[0,1]},"axis":null},"y":{"field":"building","type":"nominal","sort":null,"axis":null,"scale":{"type":"band","paddingInner":0,"paddingOuter":0}},"text":{"field":"ytd_text"},
      "color":{"condition":{"test":"indexof(datum.ytd_text, 'above') >= 0","value":"#ff0000"},"value":"#1a1a1a"}}}
  ],"spacing":0,"bounds":"flush"},
  {"width":987,"height":5,"data":{"values":[{}]},"mark":{"type":"point","opacity":0},"view":{"fill":"#f2f2f2"}},
  {"hconcat":[
    {"width":13,"height":14,"data":{"values":[{}]},"mark":{"type":"point","opacity":0},"view":{"fill":"#f2f2f2"}},
    {"width":267,"height":14,"data":{"values":[{}]},"mark":{"type":"point","opacity":0}},
    {"width":451,"height":14,"data":{"values":[{"note":"Baseline year is 2016. Target is 35% energy efficiency improvement by 2020."}]},"mark":{"type":"text","font":"Liberation Sans","fontSize":12.5,"color":"#000000"},"encoding":{"text":{"field":"note"}}},
    {"width":159,"height":14,"data":{"values":[{}]},"mark":{"type":"point","opacity":0}},
    {"width":97,"height":14,"data":{"values":[{"note":"© PowerTherm Solutions"}]},"mark":{"type":"text","align":"left","font":"Liberation Sans","fontSize":9,"color":"#7f7f7f"},"encoding":{"x":{"datum":0,"type":"quantitative","scale":{"domain":[0,1]},"axis":null},"text":{"field":"note"}}}
  ],"spacing":0,"bounds":"flush"}
]
}
